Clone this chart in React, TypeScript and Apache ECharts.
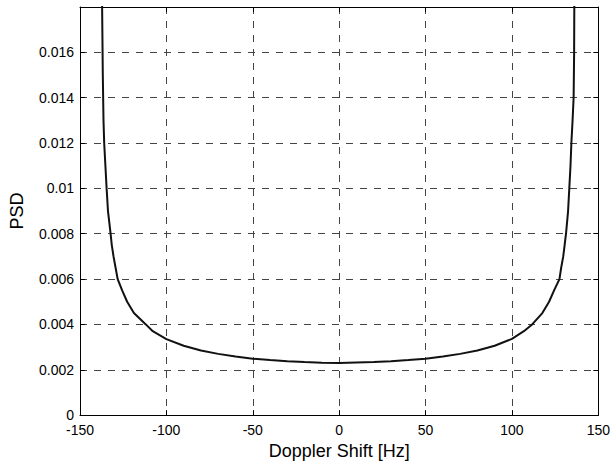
import React, { useEffect, useRef } from "react";
import * as echarts from "echarts";

// Doppler shift [Hz]
const freqs = [
  -137.6, -137.2, -136.8, -136.4, -136.0, -135.3, -134.6, -133.8, -132.3, -131.6, -130.6, -129.4, -128.2,
  -125.6, -122.7, -118.8, -111.9, -107.9, -100,
  -90, -80, -70, -60, -50, -40, -30, -20, -10, 0,
  10, 20, 30, 40, 50, 60, 70, 80, 90,
  100, 106.9, 111.7, 117.6, 121.5, 124.4, 127.5, 128.5, 129.7, 130.5, 131.3, 132.5, 133.2, 133.9,
  134.4, 135.1, 135.7, 136.0, 136.1, 136.5,
];
// PSD values
const psd = [
  0.03, 0.018, 0.015, 0.013, 0.012, 0.011, 0.01, 0.009, 0.008, 0.0075, 0.007, 0.0065, 0.006,
  0.0055, 0.005, 0.0045, 0.004, 0.0037, 0.00335,
  0.00306, 0.00285, 0.0027, 0.00258, 0.00249, 0.00243, 0.00238, 0.00234, 0.00231, 0.0023,
  0.00232, 0.00234, 0.00238, 0.00243, 0.00249, 0.00258, 0.0027, 0.00285, 0.00306,
  0.00336, 0.0037, 0.004, 0.0045, 0.005, 0.0055, 0.006, 0.0065, 0.007, 0.0075, 0.008, 0.009, 0.01, 0.011,
  0.012, 0.013, 0.014, 0.016, 0.018, 0.03,
];

const xTicks = { min: -150, max: 150, interval: 50 };
const yTicks = { min: 0, max: 0.018, interval: 0.002 };

const FONT = "'Liberation Sans', Arial, sans-serif";

export default function App() {
  const ref = useRef<HTMLDivElement>(null);
  useEffect(() => {
    if (!ref.current) return;
    const chart = echarts.init(ref.current, undefined, { renderer: "svg" });
    const data = freqs.map((f, i) => [f, psd[i]]);
    const tickStyle = { inside: true, length: 5, lineStyle: { color: "#000", width: 1 } };
    const axisLine = { show: true, onZero: false, lineStyle: { color: "#000", width: 1 } };
    const grid = { show: true, lineStyle: { color: "#444", width: 1, type: [7, 7] as any } };
    chart.setOption({
      animation: false,
      backgroundColor: "#fff",
      grid: { left: 79, right: 14, top: 7, bottom: 48, containLabel: false },
      xAxis: [
        {
          type: "value",
          ...xTicks,
          axisLine,
          axisTick: tickStyle,
          splitLine: grid,
          axisLabel: { color: "#000", fontSize: 14, lineHeight: 14, fontFamily: FONT, margin: 8 },
          name: "Doppler Shift [Hz]",
          nameLocation: "middle",
          nameGap: 26,
          nameTextStyle: { color: "#000", fontSize: 18, fontFamily: FONT },
        },
        {
          type: "value",
          position: "top",
          ...xTicks,
          axisLine,
          axisTick: tickStyle,
          splitLine: { show: false },
          axisLabel: { show: false },
        },
      ],
      yAxis: [
        {
          type: "value",
          ...yTicks,
          axisLine,
          axisTick: tickStyle,
          splitLine: grid,
          axisLabel: {
            color: "#000",
            fontSize: 14,
            lineHeight: 12,
            fontFamily: FONT,
            margin: 6,
            showMaxLabel: false,
            formatter: (v: number) => String(Number(v.toFixed(4))),
          },
          name: "PSD",
          nameLocation: "middle",
          nameGap: 54,
          nameTextStyle: { color: "#000", fontSize: 18, fontFamily: FONT },
        },
        {
          type: "value",
          position: "right",
          ...yTicks,
          axisLine,
          axisTick: tickStyle,
          splitLine: { show: false },
          axisLabel: { show: false },
        },
      ],
      series: [
        {
          type: "line",
          data,
          xAxisIndex: 0,
          yAxisIndex: 0,
          showSymbol: false,
          smooth: false,
          clip: true,
          lineStyle: { color: "#111", width: 2 },
        },
      ],
    });
    return () => chart.dispose();
  }, []);
  return (
    <div
      ref={ref}
      style={{ position: "fixed", left: 0, top: 0, width: 613, height: 465 }}
    />
  );
}
